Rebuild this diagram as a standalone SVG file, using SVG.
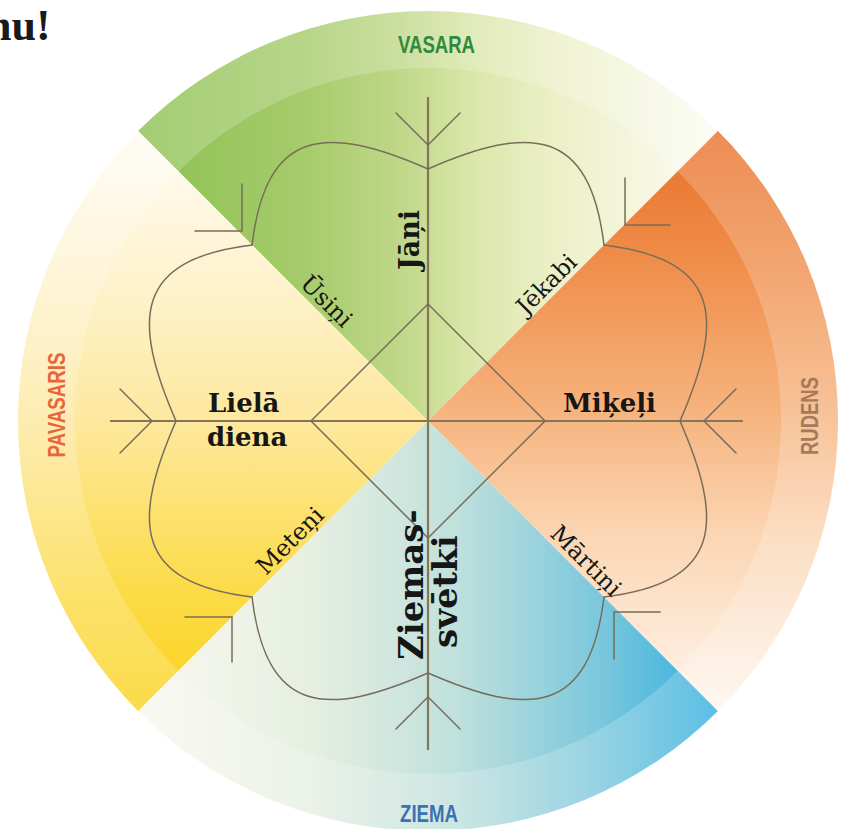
<svg xmlns="http://www.w3.org/2000/svg" width="842" height="829" viewBox="0 0 842 829">
<defs>
  <linearGradient id="gGreen" gradientUnits="userSpaceOnUse" x1="138" y1="0" x2="718" y2="0">
    <stop offset="0" stop-color="#8cc152"/>
    <stop offset="0.28" stop-color="#a5cb6a"/>
    <stop offset="0.45" stop-color="#bfd788"/>
    <stop offset="0.58" stop-color="#dbe7aa"/>
    <stop offset="0.72" stop-color="#ecf0c8"/>
    <stop offset="1" stop-color="#fcfcf4"/>
  </linearGradient>
  <linearGradient id="gOrange" gradientUnits="userSpaceOnUse" x1="0" y1="131" x2="0" y2="711">
    <stop offset="0" stop-color="#e8702a"/>
    <stop offset="0.2" stop-color="#ef8a46"/>
    <stop offset="0.45" stop-color="#f5ae76"/>
    <stop offset="0.7" stop-color="#fbd6b4"/>
    <stop offset="1" stop-color="#fff6ee"/>
  </linearGradient>
  <linearGradient id="gBlue" gradientUnits="userSpaceOnUse" x1="718" y1="0" x2="138" y2="0">
    <stop offset="0" stop-color="#32afe0"/>
    <stop offset="0.2" stop-color="#7ac7dc"/>
    <stop offset="0.45" stop-color="#bfe0dc"/>
    <stop offset="0.7" stop-color="#e6efe2"/>
    <stop offset="1" stop-color="#f9f8f0"/>
  </linearGradient>
  <linearGradient id="gYellow" gradientUnits="userSpaceOnUse" x1="0" y1="711" x2="0" y2="131">
    <stop offset="0" stop-color="#fbd21c"/>
    <stop offset="0.2" stop-color="#fcdb46"/>
    <stop offset="0.5" stop-color="#fde89e"/>
    <stop offset="0.75" stop-color="#fef3d0"/>
    <stop offset="1" stop-color="#fffcf5"/>
  </linearGradient>
  <path id="lobe" d="M0,-252 C-101,-296 -161.6,-294.8 -176,-176"/>
  <path id="vax" d="M-32,-308 L0,-276 L32,-308"/>
</defs>
<style>
  .ln{fill:none;stroke:#776d5a;stroke-width:1.5;stroke-linecap:round}
  .ax{fill:none;stroke:#857658;stroke-width:2.2}
  .lab{font-family:"DejaVu Serif","Liberation Serif",serif;font-weight:bold;font-size:26px;fill:#161616}
  .big{font-size:34px}
  .dlab{font-family:"DejaVu Serif","Liberation Serif",serif;font-size:23.5px;fill:#161616}
  .ring{font-family:"Liberation Sans",Arial,sans-serif;font-weight:bold;font-size:23px}
</style>
<rect width="842" height="829" fill="#ffffff"/>
<text x="-13" y="40" font-family="'Liberation Serif',serif" font-weight="bold" font-size="44" fill="#1a1a1a">nu!</text>

<g id="sectors">
  <path id="vasara-sector" d="M428,421 L138.1,131.1 A410,410 0 0 1 717.9,131.1 Z" fill="url(#gGreen)"/>
  <path id="rudens-sector" d="M428,421 L717.9,131.1 A410,410 0 0 1 717.9,710.9 Z" fill="url(#gOrange)"/>
  <path id="ziema-sector" d="M428,421 L717.9,710.9 A410,410 0 0 1 138.1,710.9 Z" fill="url(#gBlue)"/>
  <path id="pavasaris-sector" d="M428,421 L138.1,710.9 A410,410 0 0 1 138.1,131.1 Z" fill="url(#gYellow)"/>
  <path d="M428,11 A410,410 0 1 1 427.9,11 Z M428,68 A353,353 0 1 0 428.1,68 Z" fill="#ffffff" fill-opacity="0.2" fill-rule="evenodd"/>
</g>

<g id="season-labels" class="ring">
  <text id="vasara" x="436.5" y="53" text-anchor="middle" fill="#2d8a3e" textLength="77" lengthAdjust="spacingAndGlyphs">VASARA</text>
  <text id="ziema" x="429" y="822" text-anchor="middle" fill="#3a72b4" textLength="58" lengthAdjust="spacingAndGlyphs">ZIEMA</text>
  <text id="pavasaris" transform="translate(65,405) rotate(-90)" text-anchor="middle" fill="#e8643c" textLength="105" lengthAdjust="spacingAndGlyphs">PAVASARIS</text>
  <text id="rudens" transform="translate(818,416) rotate(-90)" text-anchor="middle" fill="#a57a5a" textLength="78" lengthAdjust="spacingAndGlyphs">RUDENS</text>
</g>

<g id="connectors">
  <path class="ax" d="M428,97 V750 M110,421 H743"/>
  <path class="ln" d="M311,421 L428,304 L545,421 L428,538 Z"/>
  <g transform="translate(428,421)">
    <use href="#vax" class="ln"/>
    <use href="#vax" class="ln" transform="rotate(90)"/>
    <use href="#vax" class="ln" transform="rotate(180)"/>
    <use href="#vax" class="ln" transform="rotate(270)"/>
    <use href="#lobe" class="ln"/>
    <use href="#lobe" class="ln" transform="scale(-1,1)"/>
    <use href="#lobe" class="ln" transform="rotate(90)"/>
    <use href="#lobe" class="ln" transform="rotate(90) scale(-1,1)"/>
    <use href="#lobe" class="ln" transform="rotate(180)"/>
    <use href="#lobe" class="ln" transform="rotate(180) scale(-1,1)"/>
    <use href="#lobe" class="ln" transform="rotate(270)"/>
    <use href="#lobe" class="ln" transform="rotate(270) scale(-1,1)"/>
  </g>
  <path class="ln" d="M242,184 L242,231 L195,231"/>
  <path class="ln" d="M625,178 L625,225 L670,225"/>
  <path class="ln" d="M185,617 L232,617 L232,662"/>
  <path class="ln" d="M660,612 L614,612 L614,659"/>
</g>

<g id="janji"><text class="lab" font-size="27" transform="translate(419,240) rotate(-90)" text-anchor="middle" style="font-size:27px">Jāņi</text></g>
<g id="liela-diena"><text class="lab"><tspan x="208" y="412">Lielā</tspan><tspan x="207" y="446">diena</tspan></text></g>
<g id="mikeli"><text class="lab" x="563" y="412">Miķeļi</text></g>
<g id="ziemassvetki">
  <text class="lab big" transform="translate(423,660) rotate(-90)">Ziemas-</text>
  <text class="lab big" transform="translate(457,648) rotate(-90)">svētki</text>
</g>
<g id="usini"><text class="dlab" transform="translate(299,285) rotate(45)">Ūsiņi</text></g>
<g id="jekabi"><text class="dlab" transform="translate(526,316) rotate(-45)">Jēkabi</text></g>
<g id="meteni"><text class="dlab" transform="translate(266,576) rotate(-45)">Meteņi</text></g>
<g id="martini"><text class="dlab" transform="translate(549,535) rotate(45)">Mārtiņi</text></g>
</svg>
